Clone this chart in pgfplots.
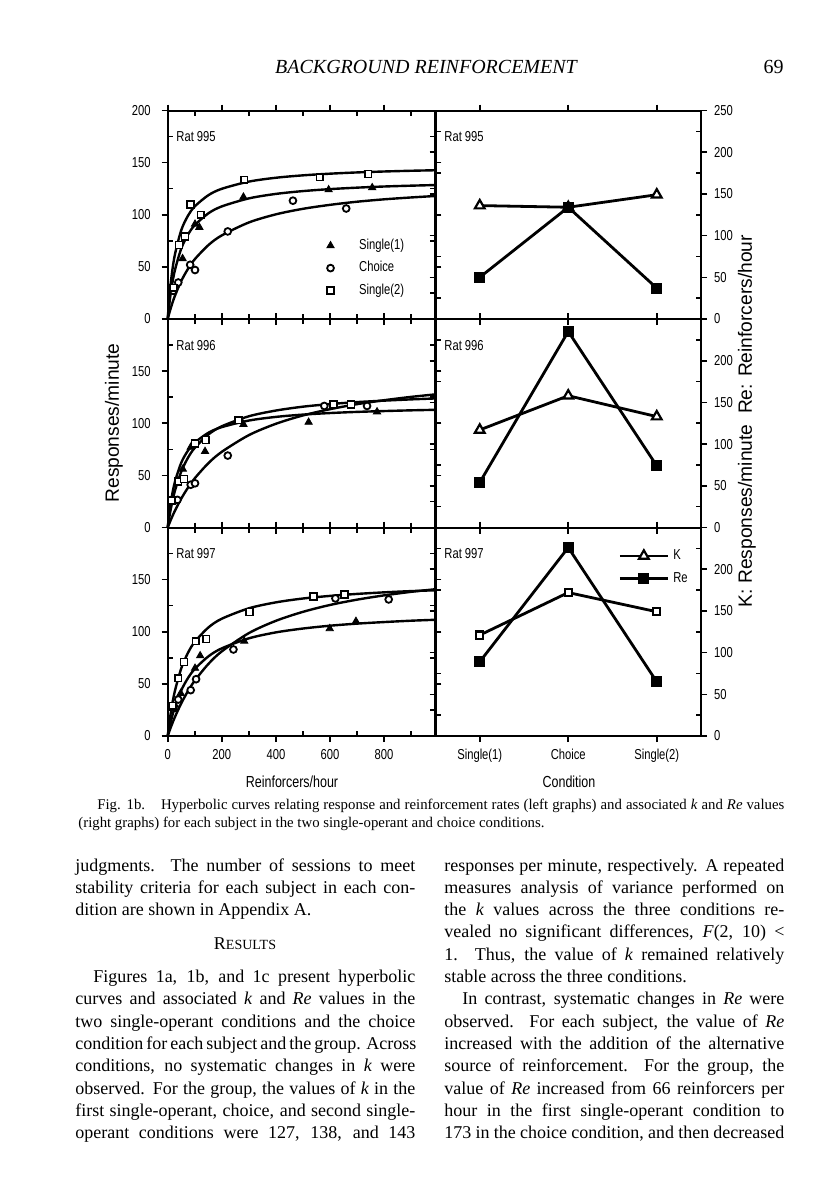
\documentclass[border=0pt]{standalone}
\usepackage{fontspec}
\setmainfont{Liberation Serif}
\newfontfamily\cond[FakeStretch=0.78]{Liberation Sans}
\newfontfamily\sansf{Liberation Sans}
\usepackage{pgfplots}
\pgfplotsset{compat=1.18}

\newcommand\tickfont{\cond\fontsize{7.2}{8.5}\selectfont}
\newcommand\bodyfont{\fontsize{9}{11}\selectfont}
\newcommand\capfont{\fontsize{7.4}{9}\selectfont}
\newcommand\jl[4]{\node[anchor=base west,inner sep=0pt,font=\bodyfont] at (#1pt,#2pt) {\makebox[#3pt][s]{#4}};}
\newcommand\rl[3]{\node[anchor=base west,inner sep=0pt,font=\bodyfont] at (#1pt,#2pt) {#3};}

\pgfplotsset{
  panel/.style={
    scale only axis, anchor=north west, height=104.25pt,
    axis line style={line width=1pt},
    tick style={black, line width=0.8pt},
    tick align=outside, major tick length=3pt, minor tick length=-2.5pt,
    tick label style={font=\tickfont},
    /pgf/number format/assume math mode=true,
    clip=false,
  },
  lpanel/.style={panel, width=133.9pt, xmin=0, xmax=990, ymin=0, ymax=200,
    xtick={0,200,400,600,800}, minor xtick={100,300,500,700,900},
    minor ytick={25,75,125,175}, yticklabel style={xshift=-2pt}},
  rpanel/.style={panel, width=132.75pt, xmin=-0.5, xmax=2.5, ymin=0, ymax=250,
    xtick={0,1,2}, minor ytick={25,75,125,175,225}, yticklabel pos=right},
  curve/.style={black, line width=1.2pt, smooth, no marks, forget plot},
  s1/.style={only marks, mark=triangle*, mark size=2.1pt, mark options={fill=black, draw=black}},
  ch/.style={only marks, mark=*, mark size=1.7pt, mark options={line width=0.9pt, draw=black, fill=white}},
  s2/.style={only marks, mark=square*, mark size=1.7pt, mark options={fill=white, draw=black, line width=0.8pt}},
  kk/.style={black, line width=1.4pt, mark=triangle*, mark size=2.8pt, mark options={fill=white, line width=1.1pt}},
  ks/.style={black, line width=1.4pt, mark=square*, mark size=1.8pt, mark options={fill=white, line width=1.1pt}},
  re/.style={black, line width=1.4pt, mark=square*, mark size=2.1pt, mark options={fill=black}},
}

\begin{document}
\begin{tikzpicture}
\useasboundingbox (0pt,0pt) rectangle (408pt,-600pt);

% ---------------- Rat 995 left
\begin{axis}[lpanel, at={(83.85pt,-55.25pt)}, ytick={0,50,100,150,200}, xticklabels=\empty,
  legend style={at={(0.593,0.405)}, anchor=north west, draw=none, fill=none, font=\tickfont, row sep=0.5pt, inner sep=0pt},
  legend cell align=left]
\addplot[curve] coordinates {(0,0)(10,22.5)(25,45)(50,67.5)(75,81)(100,90)(150,101.3)(200,108)(300,115.7)(400,120)(500,122.7)(600,124.6)(700,126)(800,127.1)(900,127.9)(990,128.5)};
\addplot[curve] coordinates {(0,0)(10,9.3)(25,21.1)(50,36.4)(75,48.1)(100,57.3)(150,70.8)(200,80.2)(300,92.6)(400,100.4)(500,105.7)(600,109.5)(700,112.5)(800,114.8)(900,116.6)(990,118)};
\addplot[curve] coordinates {(0,0)(10,31.5)(25,59.7)(50,85.1)(75,99.1)(100,108)(150,118.7)(200,124.9)(300,131.8)(400,135.5)(500,137.8)(600,139.4)(700,140.6)(800,141.5)(900,142.2)(990,142.7)};
\addplot[s1] coordinates {(55,58)(101,91)(117,88)(280,117)(595,124)(756,126)};
\addlegendentry{\hspace{10.5pt}Single(1)}
\addplot[ch] coordinates {(21,27)(39,35)(83,52)(101,47)(222,84)(463,113.5)(660,106)};
\addlegendentry{\hspace{10.5pt}Choice}
\addplot[s2] coordinates {(22,30)(42,71)(64,79)(85,110)(122,100)(283,133.5)(562,136)(741,139)};
\addlegendentry{\hspace{10.5pt}Single(2)}
\node[anchor=west, font=\tickfont, inner sep=0pt] at (rel axis cs:0.031,0.873) {Rat 995};
\end{axis}

% ---------------- Rat 995 right
\begin{axis}[rpanel, at={(217.75pt,-55.25pt)}, ytick={0,50,100,150,200,250}, xticklabels=\empty]
\addplot[kk] coordinates {(0,136)(1,134)(2,149)};
\addplot[re] coordinates {(0,50)(1,134)(2,37)};
\node[anchor=west, font=\tickfont, inner sep=0pt] at (rel axis cs:0.032,0.873) {Rat 995};
\end{axis}

% ---------------- Rat 996 left
\begin{axis}[lpanel, at={(83.85pt,-159.5pt)}, ytick={0,50,100,150}, xticklabels=\empty]
\addplot[curve] coordinates {(0,0)(10,21.5)(25,42.1)(50,62.1)(75,73.8)(100,81.4)(150,90.8)(200,96.3)(300,102.6)(400,106.1)(500,108.3)(600,109.8)(700,110.9)(800,111.7)(900,112.4)(990,112.9)};
\addplot[curve] coordinates {(0,0)(10,6.4)(25,15.2)(50,27.7)(75,38.2)(100,47.2)(150,61.6)(200,72.6)(300,88.6)(400,99.5)(500,107.5)(600,113.5)(700,118.3)(800,122.1)(900,125.3)(990,127.7)};
\addplot[curve] coordinates {(0,0)(10,15.8)(25,33.6)(50,53.6)(75,66.9)(100,76.4)(150,89.1)(200,97.1)(300,106.7)(400,112.2)(500,115.9)(600,118.4)(700,120.3)(800,121.7)(900,122.9)(990,123.8)};
\addplot[s1] coordinates {(56,56)(85,77)(138,73)(280,99)(521,101)(774,111)};
\addplot[ch] coordinates {(36,26.5)(85,41)(101,42.4)(222,69)(579,116.6)(737,116.6)};
\addplot[s2] coordinates {(15,26)(39,44)(60,46.6)(101,80.7)(141,84)(262,103)(613,118)(678,118)};
\node[anchor=west, font=\tickfont, inner sep=0pt] at (rel axis cs:0.031,0.873) {Rat 996};
\end{axis}

% ---------------- Rat 996 right
\begin{axis}[rpanel, at={(217.75pt,-159.5pt)}, ytick={0,50,100,150,200}, xticklabels=\empty]
\addplot[kk] coordinates {(0,117)(1,158)(2,133)};
\addplot[re] coordinates {(0,54)(1,235)(2,74)};
\node[anchor=west, font=\tickfont, inner sep=0pt] at (rel axis cs:0.032,0.873) {Rat 996};
\end{axis}

% ---------------- Rat 997 left
\begin{axis}[lpanel, at={(83.85pt,-263.75pt)}, ytick={0,50,100,150}]
\addplot[curve] coordinates {(0,0)(10,12.3)(25,26.6)(50,43.7)(75,55.6)(100,64.3)(150,76.3)(200,84.1)(300,93.7)(400,99.4)(500,103.1)(600,105.8)(700,107.8)(800,109.3)(900,110.6)(990,111.5)};
\addplot[curve] coordinates {(0,0)(10,7.3)(25,17.2)(50,31.3)(75,43.1)(100,53.1)(150,69)(200,81.2)(300,98.7)(400,110.5)(500,119.1)(600,125.7)(700,130.8)(800,134.9)(900,138.3)(990,140.8)};
\addplot[curve] coordinates {(0,0)(10,19.9)(25,41.4)(50,64.8)(75,79.8)(100,90.3)(150,104)(200,112.5)(300,122.5)(400,128.2)(500,131.9)(600,134.4)(700,136.3)(800,137.8)(900,139)(990,139.8)};
\addplot[s1] coordinates {(48,41)(101,65)(120,77)(283,91)(599,103)(696,110)};
\addplot[ch] coordinates {(27,27)(39,35)(85,44)(105,54.5)(243,83)(620,132)(817,131)};
\addplot[s2] coordinates {(18,29)(39,55.5)(60,71)(104,91)(142,93)(302,119)(539,134)(653,135.6)};
\node[anchor=west, font=\tickfont, inner sep=0pt] at (rel axis cs:0.031,0.873) {Rat 997};
\end{axis}

% ---------------- Rat 997 right
\begin{axis}[rpanel, at={(217.75pt,-263.75pt)}, ytick={0,50,100,150,200},
  xticklabels={Single(1),Choice,Single(2)},
  legend style={at={(0.665,0.935)}, anchor=north west, draw=none, fill=none, font=\tickfont, row sep=1pt},
  legend cell align=left,
  legend image code/.code={\draw[mark repeat=2,mark phase=2,#1] plot coordinates {(0pt,0pt) (12pt,0pt) (24pt,0pt)};}]
\addplot[ks, forget plot] coordinates {(0,121)(1,172)(2,149)};
\addplot[re, forget plot] coordinates {(0,89)(1,226)(2,65)};
\addlegendimage{kk}
\addlegendentry{K}
\addlegendimage{re}
\addlegendentry{Re}
\node[anchor=west, font=\tickfont, inner sep=0pt] at (rel axis cs:0.032,0.873) {Rat 997};
\end{axis}

% ---------------- axis titles
\node[rotate=90, font=\sansf\fontsize{9.6}{11}\selectfont] at (57pt,-211.5pt) {Responses/minute};
\node[rotate=90, font=\sansf\fontsize{9.6}{11}\selectfont] at (373.5pt,-210.5pt) {K: Responses/minute\ \ Re: Reinforcers/hour};
\node[font=\cond\fontsize{8}{10}\selectfont] at (146pt,-391pt) {Reinforcers/hour};
\node[font=\cond\fontsize{8}{10}\selectfont] at (284.5pt,-391pt) {Condition};

% ---------------- page header
\node[anchor=base, font=\fontsize{10}{12}\selectfont\itshape, inner sep=0pt] at (213pt,-36.5pt) {BACKGROUND REINFORCEMENT};
\node[anchor=base east, font=\fontsize{10}{12}\selectfont, inner sep=0pt] at (392pt,-36.5pt) {69};

% ---------------- caption
\jl{48.5}{-404.5}{343.5}{\capfont Fig. 1b.\hspace{5pt} Hyperbolic curves relating response and reinforcement rates (left graphs) and associated \textit{k} and \textit{Re} values}
\rl{39}{-413.5}{\capfont (right graphs) for each subject in the two single-operant and choice conditions.}

% ---------------- body, left column
\jl{37.5}{-435.5}{170}{judgments. The number of sessions to meet}
\jl{37.5}{-446.65}{170}{stability criteria for each subject in each con-}
\rl{37.5}{-457.8}{dition are shown in Appendix A.}
\node[anchor=base, font=\bodyfont, inner sep=0pt] at (122.5pt,-474.5pt) {R{\fontsize{7}{8}\selectfont ESULTS}};
\jl{46.5}{-491.25}{161}{Figures 1a, 1b, and 1c present hyperbolic}
\jl{37.5}{-502.4}{170}{curves and associated \textit{k} and \textit{Re} values in the}
\jl{37.5}{-513.55}{170}{two single-operant conditions and the choice}
\jl{37.5}{-524.7}{170}{condition for each subject and the group. Across}
\jl{37.5}{-535.85}{170}{conditions, no systematic changes in \textit{k} were}
\jl{37.5}{-547}{170}{observed. For the group, the values of \textit{k} in the}
\jl{37.5}{-558.15}{170}{first single-operant, choice, and second single-}
\jl{37.5}{-569.3}{170}{operant conditions were 127, 138, and 143}

% ---------------- body, right column
\jl{222}{-435.5}{170}{responses per minute, respectively. A repeated}
\jl{222}{-446.65}{170}{measures analysis of variance performed on}
\jl{222}{-457.8}{170}{the \textit{k} values across the three conditions re-}
\jl{222}{-468.95}{170}{vealed no significant differences, \textit{F}(2, 10) <}
\jl{222}{-480.1}{170}{1. Thus, the value of \textit{k} remained relatively}
\rl{222}{-491.25}{stable across the three conditions.}
\jl{231}{-502.4}{161}{In contrast, systematic changes in \textit{Re} were}
\jl{222}{-513.55}{170}{observed. For each subject, the value of \textit{Re}}
\jl{222}{-524.7}{170}{increased with the addition of the alternative}
\jl{222}{-535.85}{170}{source of reinforcement. For the group, the}
\jl{222}{-547}{170}{value of \textit{Re} increased from 66 reinforcers per}
\jl{222}{-558.15}{170}{hour in the first single-operant condition to}
\jl{222}{-569.3}{170}{173 in the choice condition, and then decreased}
\end{tikzpicture}
\end{document}
